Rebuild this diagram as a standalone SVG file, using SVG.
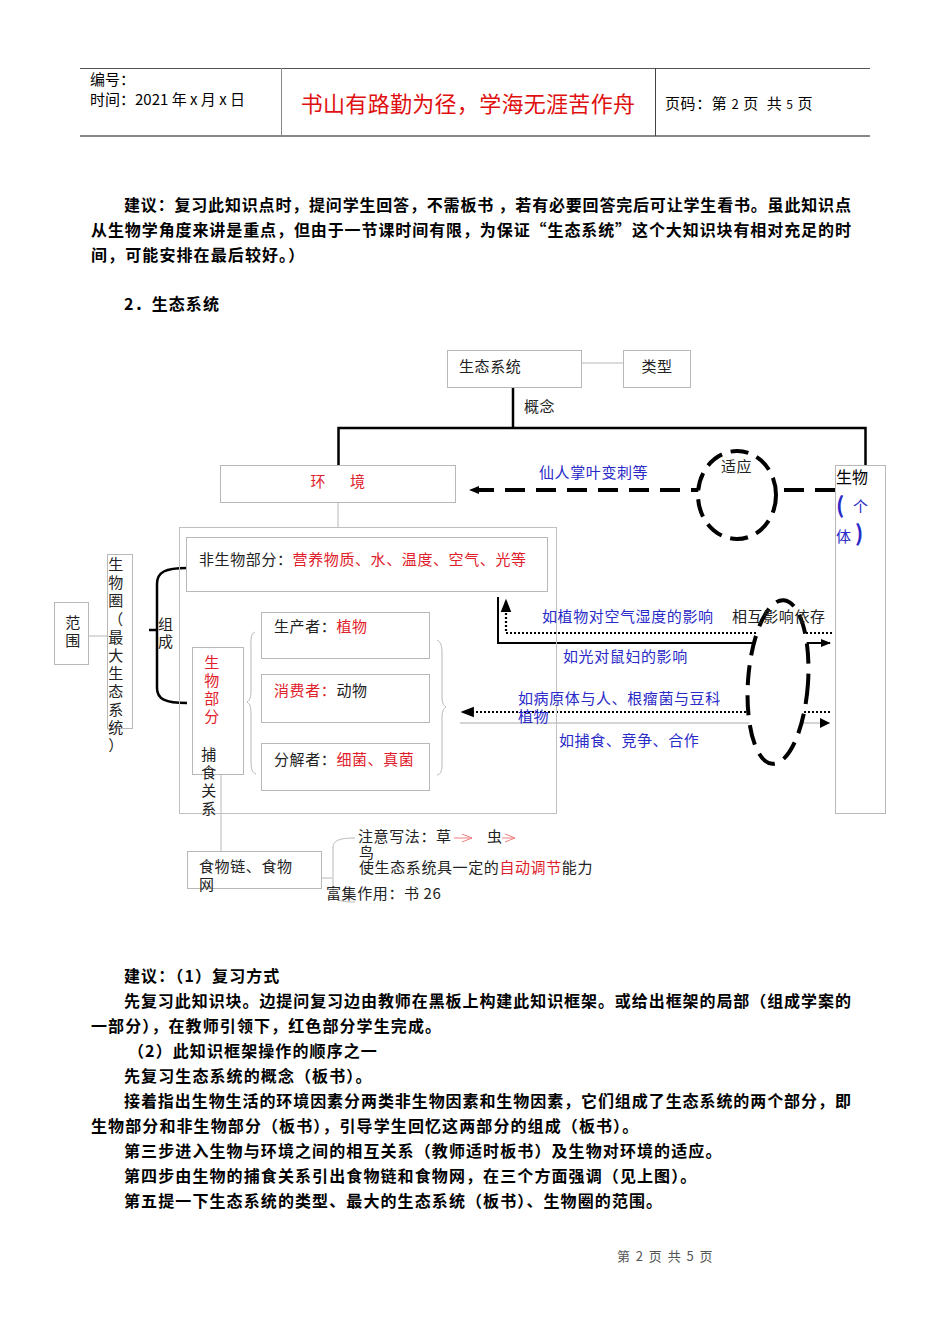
<svg xmlns="http://www.w3.org/2000/svg" width="950" height="1344" viewBox="0 0 950 1344">
<defs>
<style>
.b{font-family:"Noto Sans CJK SC","Liberation Sans",sans-serif;font-weight:bold;font-size:16px;fill:#000;letter-spacing:1.1px}
.d{font-family:"Noto Sans CJK SC","Liberation Sans",sans-serif;font-size:15px;fill:#222;letter-spacing:0.6px}
.h{font-family:"Noto Sans CJK SC","Liberation Sans",sans-serif;font-size:15px;fill:#000}
.r{fill:#e0202a}
.bl{fill:#2a2ac8}
.box{fill:#fff;stroke:#b8b8b8;stroke-width:1}
.gl{stroke:#b8b8b8;stroke-width:1;fill:none}
.k{stroke:#000;stroke-width:2.5;fill:none}
</style>
<marker id="ah" viewBox="0 0 10 10" refX="9" refY="5" markerWidth="10" markerHeight="10" markerUnits="userSpaceOnUse" orient="auto"><path d="M0,1 L10,5 L0,9 z" fill="#000"/></marker>
<marker id="ahb" viewBox="0 0 10 10" refX="9" refY="5" markerWidth="6" markerHeight="6" orient="auto"><path d="M0,1 L10,5 L0,9 z" fill="#000"/></marker>
<marker id="pk" viewBox="0 0 10 10" refX="10" refY="5" markerWidth="10" markerHeight="10" markerUnits="userSpaceOnUse" orient="auto"><path d="M0,1 L10,5 L0,9" fill="none" stroke="#f08080" stroke-width="1"/></marker>
</defs>
<rect width="950" height="1344" fill="#fff"/>

<g id="header">
<line x1="80" y1="68.5" x2="870" y2="68.5" stroke="#555" stroke-width="1"/>
<line x1="80" y1="136" x2="870" y2="136" stroke="#888" stroke-width="2"/>
<line x1="281.5" y1="68" x2="281.5" y2="136" stroke="#888" stroke-width="1"/>
<line x1="655.5" y1="68" x2="655.5" y2="136" stroke="#444" stroke-width="1"/>
<text class="h" x="90" y="85">编号：</text>
<text class="h" x="90" y="105">时间：2021 年 x 月 x 日</text>
<text x="468" y="112" text-anchor="middle" font-family="Noto Sans CJK SC,sans-serif" font-size="22" fill="#e01010" letter-spacing="0.3">书山有路勤为径，学海无涯苦作舟</text>
<text class="h" x="665" y="109" letter-spacing="0.6" xml:space="preserve">页码：第 <tspan font-size="13">2</tspan> 页  共 <tspan font-size="12">5</tspan> 页</text>
</g>

<g id="body-top">
<text class="b" x="124" y="211" textLength="728" lengthAdjust="spacing">建议：复习此知识点时，提问学生回答，不需板书 ，若有必要回答完后可让学生看书。虽此知识点</text>
<text class="b" x="91" y="236" textLength="761" lengthAdjust="spacing">从生物学角度来讲是重点，但由于一节课时间有限，为保证“生态系统”这个大知识块有相对充足的时</text>
<text class="b" x="91" y="261">间，可能安排在最后较好。）</text>
<text class="b" x="124" y="310">2．生态系统</text>
</g>

<g id="connectors">
<line class="gl" x1="581" y1="363" x2="623" y2="363"/>
<line class="k" x1="513" y1="387" x2="513" y2="428"/>
<polyline class="k" points="338.5,466 338.5,428 865.5,428 865.5,466"/>
<line class="gl" x1="338" y1="502" x2="338" y2="527"/>
<path class="k" d="M187,568 C165,568 157,572 157,584 L157,688 C157,699 165,703 187,703"/>
<line class="k" x1="149" y1="630" x2="158" y2="630"/>
<line class="gl" x1="88" y1="636" x2="107" y2="636"/>
<path class="gl" d="M255,632 C250,634 251,640 251,650 L251,690 C251,697 250,700 247,702 C250,704 251,707 251,714 L251,760 C251,770 252,772 256,774"/>
<path class="gl" d="M437,640 C441,642 442,646 442,654 L442,696 C442,702 443,705 446,707 C443,709 442,712 442,718 L442,764 C442,771 441,774 437,775"/>
<line class="gl" x1="221" y1="727" x2="221" y2="851"/>
<path class="gl" d="M321,878 L332,878 M355,838 C338,838 333,841 333,848 L333,892 C333,899 338,902 355,902"/>
<line x1="835" y1="490" x2="470" y2="490" stroke="#000" stroke-width="4" stroke-dasharray="20,11" marker-end="url(#ah)"/>
<polyline points="498,597 498,643 830,643" fill="none" stroke="#000" stroke-width="2" marker-end="url(#ah)"/>
<polyline points="832,633 506,633 506,600" fill="none" stroke="#000" stroke-width="2.2" stroke-dasharray="2,2" marker-end="url(#ahb)"/>
<line x1="830" y1="712" x2="462" y2="712" stroke="#000" stroke-width="2.2" stroke-dasharray="2,2" marker-end="url(#ahb)"/>
<line x1="460" y1="723" x2="830" y2="723" stroke="#aaa" stroke-width="1"/>
<path d="M820,718 L830,723 L820,728 z" fill="#000"/>
<line x1="454" y1="838" x2="472" y2="838" stroke="#f08080" stroke-width="1" marker-end="url(#pk)"/>
<line x1="502" y1="838" x2="515" y2="838" stroke="#f08080" stroke-width="1" marker-end="url(#pk)"/>
<ellipse cx="737" cy="495" rx="39" ry="44" fill="#fff" stroke="#000" stroke-width="4" stroke-dasharray="18,9"/>
<ellipse cx="778" cy="682" rx="30" ry="82" fill="#fff" stroke="#000" stroke-width="4" stroke-dasharray="20,10" transform="rotate(4 778 682)"/>
</g>

<g id="n-ecosystem">
<rect class="box" x="447.5" y="350.5" width="134" height="37"/>
<text class="d" x="459" y="372">生态系统</text>
</g>
<g id="n-type">
<rect class="box" x="623.5" y="350.5" width="67" height="37"/>
<text class="d" x="657" y="372" text-anchor="middle">类型</text>
</g>
<text id="l-concept" class="d" x="524" y="412">概念</text>

<g id="n-env">
<rect class="box" x="220.5" y="465.5" width="235" height="37"/>
<text class="d r" x="338" y="487" text-anchor="middle" xml:space="preserve">环      境</text>
</g>

<g id="n-big">
<rect x="179.5" y="527.5" width="377" height="286" fill="none" stroke="#c0c0c0"/>
</g>
<g id="n-abiotic">
<rect class="box" x="186.5" y="537.5" width="361" height="54"/>
<text class="d" x="199" y="565">非生物部分：<tspan class="r">营养物质、水、温度、空气、光等</tspan></text>
</g>
<g id="l-compose">
<text class="d" x="158" y="630">组</text>
<text class="d" x="158" y="647">成</text>
</g>

<g id="n-range">
<rect class="box" x="54.5" y="602.5" width="34" height="62"/>
<text class="d" x="73" y="628" text-anchor="middle">范</text>
<text class="d" x="73" y="646" text-anchor="middle">围</text>
</g>
<g id="n-biosphere">
<rect class="box" x="107.5" y="554.5" width="25" height="174"/>
<g class="d" text-anchor="middle">
<text x="116" y="570">生</text><text x="116" y="588">物</text><text x="116" y="606">圈</text><text x="116" y="625">（</text><text x="116" y="643">最</text><text x="116" y="661">大</text><text x="116" y="679">生</text><text x="116" y="697">态</text><text x="116" y="715">系</text><text x="116" y="733">统</text><text x="116" y="751">）</text>
</g>
</g>

<g id="n-biotic">
<rect class="box" x="192.5" y="647.5" width="51" height="127" fill="none"/>
<g class="d r" text-anchor="middle">
<text x="212" y="668">生</text><text x="212" y="686">物</text><text x="212" y="704">部</text><text x="212" y="722">分</text>
</g>
<g class="d" text-anchor="middle">
<text x="209" y="760">捕</text><text x="209" y="778">食</text><text x="209" y="796">关</text><text x="209" y="814">系</text>
</g>
</g>

<g id="n-producer">
<rect class="box" x="261.5" y="612.5" width="168" height="46"/>
<text class="d" x="274" y="632">生产者：<tspan class="r">植物</tspan></text>
</g>
<g id="n-consumer">
<rect class="box" x="261.5" y="674.5" width="168" height="48"/>
<text class="d" x="274" y="696"><tspan class="r">消费者：</tspan>动物</text>
</g>
<g id="n-decomposer">
<rect class="box" x="261.5" y="743.5" width="168" height="47"/>
<text class="d" x="274" y="765">分解者：<tspan class="r">细菌、真菌</tspan></text>
</g>

<g id="n-organism">
<rect class="box" x="835.5" y="465.5" width="50" height="348" fill="none"/>
<text x="836" y="483" font-family="Noto Sans CJK SC,sans-serif" font-size="16" fill="#000">生物</text>
<text x="836" y="513" font-family="Noto Sans CJK SC,sans-serif" font-size="22" font-weight="bold" fill="#2a2ac8">(</text>
<text x="853" y="512" font-family="Noto Sans CJK SC,sans-serif" font-size="15" fill="#2a2ac8">个</text>
<text x="836" y="542" font-family="Noto Sans CJK SC,sans-serif" font-size="15" fill="#2a2ac8">体</text>
<text x="855" y="541" font-family="Noto Sans CJK SC,sans-serif" font-size="22" font-weight="bold" fill="#2a2ac8">)</text>
</g>

<g id="labels">
<text class="d bl" x="539" y="478">仙人掌叶变刺等</text>
<text class="d" x="721" y="472" font-size="13.5">适应</text>
<text class="d bl" x="542" y="622">如植物对空气湿度的影响</text>
<text class="d" x="732" y="622">相互影响依存</text>
<text class="d bl" x="563" y="662">如光对鼠妇的影响</text>
<text class="d bl" x="518" y="704">如病原体与人、根瘤菌与豆科</text>
<text class="d bl" x="518" y="722">植物</text>
<text class="d bl" x="559" y="746">如捕食、竞争、合作</text>
</g>

<g id="n-foodchain">
<rect class="box" x="187.5" y="851.5" width="134" height="37" fill="none"/>
<text class="d" x="199" y="872">食物链、食物</text>
<text class="d" x="199" y="890">网</text>
</g>
<g id="foodchain-notes">
<text class="d" x="358" y="842">注意写法：草</text>
<text class="d" x="487" y="842">虫</text>
<text class="d" x="359" y="858" font-size="12">鸟</text>
<text class="d" x="359" y="873">使生态系统具一定的<tspan class="r">自动调节</tspan>能力</text>
<text class="d" x="326" y="899">富集作用：书 26</text>
</g>

<g id="body-bottom">
<text class="b" x="124" y="982">建议：（1）复习方式</text>
<text class="b" x="124" y="1007" textLength="728" lengthAdjust="spacing">先复习此知识块。边提问复习边由教师在黑板上构建此知识框架。或给出框架的局部（组成学案的</text>
<text class="b" x="91" y="1032">一部分），在教师引领下，红色部分学生完成。</text>
<text class="b" x="128" y="1057">（2）此知识框架操作的顺序之一</text>
<text class="b" x="124" y="1082">先复习生态系统的概念（板书）。</text>
<text class="b" x="124" y="1107" textLength="728" lengthAdjust="spacing">接着指出生物生活的环境因素分两类非生物因素和生物因素，它们组成了生态系统的两个部分，即</text>
<text class="b" x="91" y="1132">生物部分和非生物部分（板书），引导学生回忆这两部分的组成（板书）。</text>
<text class="b" x="124" y="1157">第三步进入生物与环境之间的相互关系（教师适时板书）及生物对环境的适应。</text>
<text class="b" x="124" y="1182">第四步由生物的捕食关系引出食物链和食物网，在三个方面强调（见上图）。</text>
<text class="b" x="124" y="1207">第五提一下生态系统的类型、最大的生态系统（板书）、生物圈的范围。</text>
</g>

<text id="footer" x="617" y="1261" font-family="Noto Sans CJK SC,sans-serif" font-size="13" fill="#555" xml:space="preserve">第  2  页  共  5  页</text>
</svg>
